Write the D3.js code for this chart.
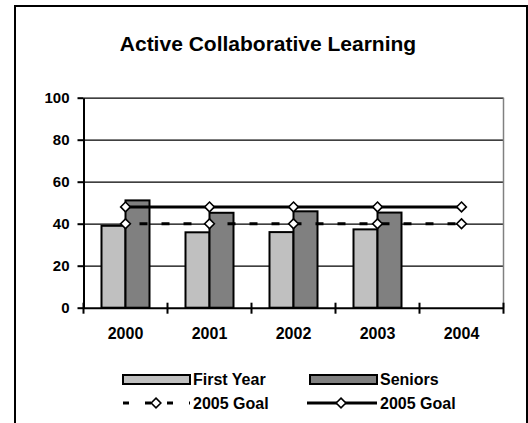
<!DOCTYPE html>
<html>
<head>
<meta charset="utf-8">
<script src="https://cdn.jsdelivr.net/npm/d3@7"></script>
<style>
  body { margin: 0; background: #fff; }
  text { font-family: "Liberation Sans", Arial, Helvetica, sans-serif; font-weight: bold; fill: #000; }
</style>
</head>
<body>
<div id="chart"></div>
<script>
// chart values
var years = ["2000", "2001", "2002", "2003", "2004"];
var firstYear = [39, 35.9, 36, 37.3, null];
var seniors = [51.1, 45.2, 45.9, 45.3, null];
var goalFirstYear = [40, 40, 40, 40, 40];
var goalSeniors = [48, 48, 48, 48, 48];
var yTicks = [0, 20, 40, 60, 80, 100];
var legendLabels = ["First Year", "Seniors", "2005 Goal", "2005 Goal"];

var W = 528, H = 423;
var plot = { left: 83.5, right: 503.5, top: 97.7, bottom: 307.7 };

var svg = d3.select("#chart").append("svg").attr("width", W).attr("height", H);

// chart frame
svg.append("rect").attr("x", 15).attr("y", 6).attr("width", 512).attr("height", 440)
  .attr("fill", "#fff").attr("stroke", "#000").attr("stroke-width", 2);

svg.append("text").attr("x", 268).attr("y", 51).attr("text-anchor", "middle")
  .style("font-size", "21px").text("Active Collaborative Learning");

var x = d3.scaleBand().domain(years).range([plot.left, plot.right]).padding(0);
var xs = d3.scaleBand().domain(["fy", "sr"]).range([0, x.bandwidth()]).paddingInner(0).paddingOuter(0.75);
var y = d3.scaleLinear().domain([0, 100]).range([plot.bottom, plot.top]);

// gridlines
svg.append("g").attr("transform", "translate(" + plot.left + ",0)")
  .call(d3.axisLeft(y).tickValues(yTicks.slice(1)).tickSize(-(plot.right - plot.left)).tickFormat(""))
  .call(function (g) {
    g.select(".domain").remove();
    g.selectAll("line").attr("stroke", "#000").attr("stroke-width", 1.2);
  });

// plot area right edge
svg.append("line").attr("x1", plot.right).attr("x2", plot.right).attr("y1", plot.top).attr("y2", plot.bottom)
  .attr("stroke", "#808080").attr("stroke-width", 1.5);

// bars
var groups = svg.append("g").selectAll("g").data(years).join("g")
  .attr("transform", function (d) { return "translate(" + x(d) + ",0)"; });
groups.append("rect")
  .filter(function (d, i) { return firstYear[i] != null; })
  .attr("x", xs("fy")).attr("width", xs.bandwidth())
  .attr("y", function (d) { return y(firstYear[years.indexOf(d)]); })
  .attr("height", function (d) { return plot.bottom - y(firstYear[years.indexOf(d)]); })
  .attr("fill", "#c0c0c0").attr("stroke", "#000").attr("stroke-width", 2);
groups.append("rect")
  .filter(function (d, i) { return seniors[i] != null; })
  .attr("x", xs("sr")).attr("width", xs.bandwidth())
  .attr("y", function (d) { return y(seniors[years.indexOf(d)]); })
  .attr("height", function (d) { return plot.bottom - y(seniors[years.indexOf(d)]); })
  .attr("fill", "#808080").attr("stroke", "#000").attr("stroke-width", 2);

// y axis
svg.append("g").attr("transform", "translate(" + plot.left + ",0)")
  .call(d3.axisLeft(y).tickValues(yTicks).tickSize(6).tickSizeOuter(0).tickPadding(8))
  .call(function (g) {
    g.select(".domain").attr("stroke", "#000").attr("stroke-width", 2);
    g.selectAll("line").attr("stroke", "#000").attr("stroke-width", 2);
    g.selectAll("text").style("font-size", "15px").attr("font-family", null);
  });

// x axis labels
svg.append("g").attr("transform", "translate(0," + plot.bottom + ")")
  .call(d3.axisBottom(x).tickSize(0).tickPadding(20))
  .call(function (g) {
    g.select(".domain").attr("stroke", "#000").attr("stroke-width", 2);
    g.selectAll("text").style("font-size", "16px").attr("font-family", null);
  });

// category tick marks at band edges
var edges = years.map(function (d) { return x(d); }).concat([plot.right]);
svg.append("g").selectAll("line").data(edges).join("line")
  .attr("x1", function (d) { return d; }).attr("x2", function (d) { return d; })
  .attr("y1", plot.bottom - 5).attr("y2", plot.bottom + 6)
  .attr("stroke", "#000").attr("stroke-width", 2);

var cx = function (d, i) { return x(years[i]) + x.bandwidth() / 2; };
var diamond = d3.symbol().type(d3.symbolDiamond2).size(60);

// goal lines
var line = d3.line().x(cx).y(function (d) { return y(d); });
svg.append("path").datum(goalFirstYear).attr("d", line)
  .attr("fill", "none").attr("stroke", "#000").attr("stroke-width", 3).attr("stroke-dasharray", "8,14")
  .attr("stroke-dashoffset", -14);
svg.append("path").datum(goalSeniors).attr("d", line)
  .attr("fill", "none").attr("stroke", "#000").attr("stroke-width", 3);

[goalFirstYear, goalSeniors].forEach(function (s) {
  svg.append("g").selectAll("path").data(s).join("path")
    .attr("transform", function (d, i) { return "translate(" + cx(d, i) + "," + y(d) + ")"; })
    .attr("d", diamond).attr("fill", "#fff").attr("stroke", "#000").attr("stroke-width", 1.6);
});

// legend
var leg = svg.append("g");
var swatchX = [123, 310];
leg.append("rect").attr("x", swatchX[0]).attr("y", 375).attr("width", 67).attr("height", 9)
  .attr("fill", "#c0c0c0").attr("stroke", "#000").attr("stroke-width", 2);
leg.append("rect").attr("x", swatchX[1]).attr("y", 375).attr("width", 67).attr("height", 9)
  .attr("fill", "#808080").attr("stroke", "#000").attr("stroke-width", 2);
leg.append("line").attr("x1", swatchX[0]).attr("x2", swatchX[0] + 67).attr("y1", 403).attr("y2", 403)
  .attr("stroke", "#000").attr("stroke-width", 3).attr("stroke-dasharray", "6,16");
leg.append("line").attr("x1", swatchX[1] - 3).attr("x2", swatchX[1] + 67).attr("y1", 403).attr("y2", 403)
  .attr("stroke", "#000").attr("stroke-width", 3);
leg.append("path").attr("transform", "translate(" + (swatchX[0] + 33) + ",403)").attr("d", diamond)
  .attr("fill", "#fff").attr("stroke", "#000").attr("stroke-width", 1.6);
leg.append("path").attr("transform", "translate(" + (swatchX[1] + 31) + ",403)").attr("d", diamond)
  .attr("fill", "#fff").attr("stroke", "#000").attr("stroke-width", 1.6);
leg.selectAll("text").data(legendLabels).join("text")
  .attr("x", function (d, i) { return i % 2 === 0 ? 193 : 380; })
  .attr("y", function (d, i) { return i < 2 ? 385 : 409; })
  .style("font-size", "16px").text(function (d) { return d; });
</script>
</body>
</html>
